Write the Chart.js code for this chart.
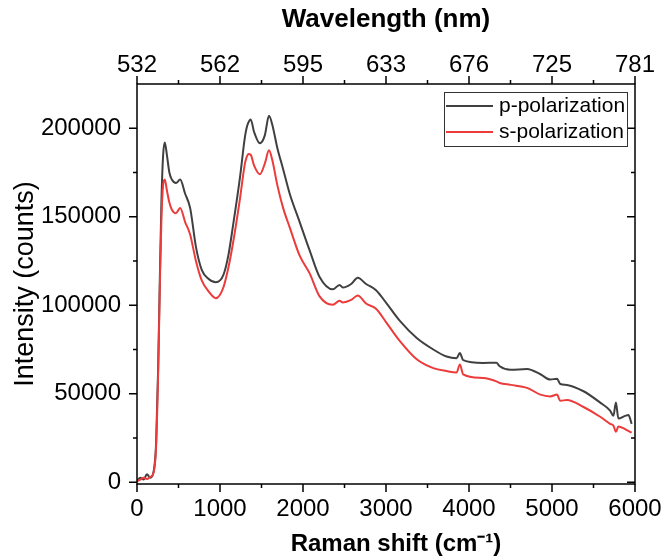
<!DOCTYPE html>
<html>
<head>
<meta charset="utf-8">
<script src="https://cdn.jsdelivr.net/npm/chart.js@4.4.1/dist/chart.umd.min.js"></script>
<style>
  html, body { margin: 0; padding: 0; background: #fff; }
  #wrap { width: 664px; height: 557px; }
</style>
</head>
<body>
<div id="wrap"><canvas id="raman" width="664" height="557"></canvas></div>
<script>
const shifts = [0, 40, 80, 120, 160, 200, 230, 255, 275, 295, 315, 335, 360, 390, 420, 470, 520, 580, 640, 710,
    780, 860, 950, 1040, 1100, 1160, 1240, 1300, 1320, 1340, 1370, 1410, 1480, 1540, 1590, 1630, 1690, 1760, 1840, 1960,
    2080, 2200, 2360, 2440, 2480, 2580, 2660, 2760, 2880, 3000, 3170, 3370, 3570, 3730, 3850, 3890, 3930, 4170, 4330, 4370,
    4500, 4700, 4860, 4980, 5060, 5100, 5180, 5380, 5580, 5700, 5740, 5770, 5800, 5880, 5920, 5960];

//intensity (counts)
const pPolarization = [800, 2500, 1500, 4500, 2500, 6000, 22000, 65000, 115000, 160000, 185000, 192000, 185000, 175000, 171000, 169000, 171000, 163000, 155000, 133000,
    120000, 115000, 113000, 117000, 128000, 146000, 172000, 195000, 200000, 203000, 205000, 198000, 191500, 196000, 207000, 202000, 189000, 177000, 163000, 147000,
    131000, 116000, 109000, 111500, 110000, 112000, 115500, 112000, 108500, 101500, 91000, 81500, 75000, 71000, 70000, 73000, 69000, 67400, 67500, 65500,
    63500, 64000, 61000, 58000, 58500, 55500, 55000, 51400, 45000, 40500, 37500, 45000, 36000, 37500, 38000, 33000];

const sPolarization = [500, 1500, 2500, 1800, 3000, 5500, 20000, 62000, 110000, 150000, 168000, 171000, 165000, 158000, 154000, 152000, 155000, 147000, 140000, 125000,
    114000, 108000, 104000, 110000, 121000, 136000, 160000, 180000, 183500, 185500, 185000, 179000, 174000, 180000, 187500, 182000, 168000, 155000, 144000, 128000,
    118000, 105000, 100300, 102500, 101600, 103000, 105500, 101000, 98000, 90500, 79600, 69500, 64500, 62800, 62000, 66500, 61000, 58900, 57000, 56100,
    55000, 53300, 49500, 48500, 49500, 46000, 46500, 42500, 37000, 33000, 32000, 28500, 31500, 30000, 29000, 28000];

//tick positions and labels
const shiftTicks = [0, 1000, 2000, 3000, 4000, 5000, 6000];
const wavelengthLabels = ['532', '562', '595', '633', '676', '725', '781'];
const countTicks = [0, 50000, 100000, 150000, 200000];

const FONT = "'Liberation Sans', Arial, sans-serif";

const toPoints = (ys) => shifts.map((x, i) => ({ x: x, y: ys[i] }));
const setTicks = (vals) => (s) => { s.ticks = vals.map((v) => ({ value: v })); };

//fixed box sizes, no extra room for overhanging labels
const fixHeight = (h) => (s) => { s.height = h; s.paddingLeft = 0; s.paddingRight = 0; };
const fixWidth = (w) => (s) => { s.width = w; s.paddingTop = 0; s.paddingBottom = 0; };

//frame, tick marks (major + minor) and boxed legend
const frameTicks = {
    id: 'frameTicks',
    afterDraw(chart) {
        const { ctx, chartArea: a, scales } = chart;
        ctx.save();
        ctx.strokeStyle = '#000';
        ctx.lineWidth = 1.5;
        ctx.strokeRect(a.left, a.top, a.right - a.left, a.bottom - a.top);

        ctx.beginPath();
        for (let v = 0; v <= 6000; v += 500) {
            const x = scales.x.getPixelForValue(v);
            const len = v % 1000 === 0 ? 8 : 4;
            ctx.moveTo(x, a.bottom); ctx.lineTo(x, a.bottom + len);
            ctx.moveTo(x, a.top); ctx.lineTo(x, a.top - len);
        }
        for (let v = 0; v <= 200000; v += 25000) {
            const y = scales.y.getPixelForValue(v);
            const len = v % 50000 === 0 ? 8 : 4;
            ctx.moveTo(a.left, y); ctx.lineTo(a.left - len, y);
            ctx.moveTo(a.right, y); ctx.lineTo(a.right - len, y);
        }
        ctx.stroke();

        //legend
        const bx = a.right - 191, by = a.top + 8, bw = 183, bh = 54;
        ctx.fillStyle = '#fff';
        ctx.fillRect(bx, by, bw, bh);
        ctx.strokeStyle = '#333';
        ctx.lineWidth = 1;
        ctx.strokeRect(bx + 0.5, by + 0.5, bw, bh);
        ctx.font = '21px ' + FONT;
        ctx.textBaseline = 'middle';
        chart.data.datasets.forEach((ds, i) => {
            const ly = by + 14 + i * 26;
            ctx.strokeStyle = ds.borderColor;
            ctx.lineWidth = 2;
            ctx.beginPath();
            ctx.moveTo(bx + 2, ly); ctx.lineTo(bx + 49, ly);
            ctx.stroke();
            ctx.fillStyle = '#000';
            ctx.fillText(ds.label, bx + 55, ly);
        });
        ctx.restore();
    }
};

const tickFont = { family: FONT, size: 24 };

const chart = new Chart(document.getElementById('raman').getContext('2d'), {
    type: 'line',
    data: {
        datasets: [
            {
                label: 'p-polarization',
                data: toPoints(pPolarization),
                borderColor: '#404040',
                borderWidth: 2,
                pointRadius: 0,
                cubicInterpolationMode: 'monotone',
                order: 1,
            },
            {
                label: 's-polarization',
                data: toPoints(sPolarization),
                borderColor: '#ec3b3b',
                borderWidth: 2,
                pointRadius: 0,
                cubicInterpolationMode: 'monotone',
                order: 0,
            },
        ],
    },
    options: {
        responsive: false,
        animation: false,
        devicePixelRatio: 1,
        layout: { padding: 0 },
        plugins: {
            legend: { display: false },
            tooltip: { enabled: false },
        },
        scales: {
            x: {
                type: 'linear',
                position: 'bottom',
                min: 0,
                max: 6000,
                afterBuildTicks: setTicks(shiftTicks),
                grid: { display: false, drawTicks: false },
                border: { display: false },
                ticks: { padding: 11, color: '#000', font: tickFont, maxRotation: 0, autoSkip: false, callback: (v) => String(v) },
                title: {
                    display: true, text: '   Raman shift (cm\u207B\u00B9)', color: '#000',
                    font: { family: FONT, size: 24, weight: 'bold', lineHeight: 1 }, padding: { top: 0, bottom: 1 },
                },
                afterFit: fixHeight(73),
            },
            x2: {
                type: 'linear',
                position: 'top',
                min: 0,
                max: 6000,
                afterBuildTicks: setTicks(shiftTicks),
                grid: { display: false, drawTicks: false },
                border: { display: false },
                ticks: {
                    padding: 4, color: '#000', font: tickFont, maxRotation: 0, autoSkip: false,
                    callback: (v) => wavelengthLabels[shiftTicks.indexOf(v)],
                },
                title: { display: true, text: 'Wavelength (nm)', color: '#000', font: { family: FONT, size: 26, weight: 'bold' }, padding: { top: 4, bottom: 0 } },
                afterFit: fixHeight(84),
            },
            y: {
                type: 'linear',
                position: 'left',
                min: -1000,
                max: 225000,
                afterBuildTicks: setTicks(countTicks),
                grid: { display: false, drawTicks: false },
                border: { display: false },
                ticks: { padding: 16, color: '#000', font: tickFont, autoSkip: false, callback: (v) => String(v) },
                title: { display: true, text: 'Intensity (counts)', color: '#000', font: { family: FONT, size: 27 }, padding: { top: 9, bottom: 0 } },
                afterFit: fixWidth(137),
            },
            y2: {
                type: 'linear',
                position: 'right',
                min: -1000,
                max: 225000,
                grid: { display: false, drawTicks: false },
                border: { display: false },
                ticks: { display: false },
                afterFit: fixWidth(29),
            },
        },
    },
    plugins: [frameTicks],
});
</script>
</body>
</html>
